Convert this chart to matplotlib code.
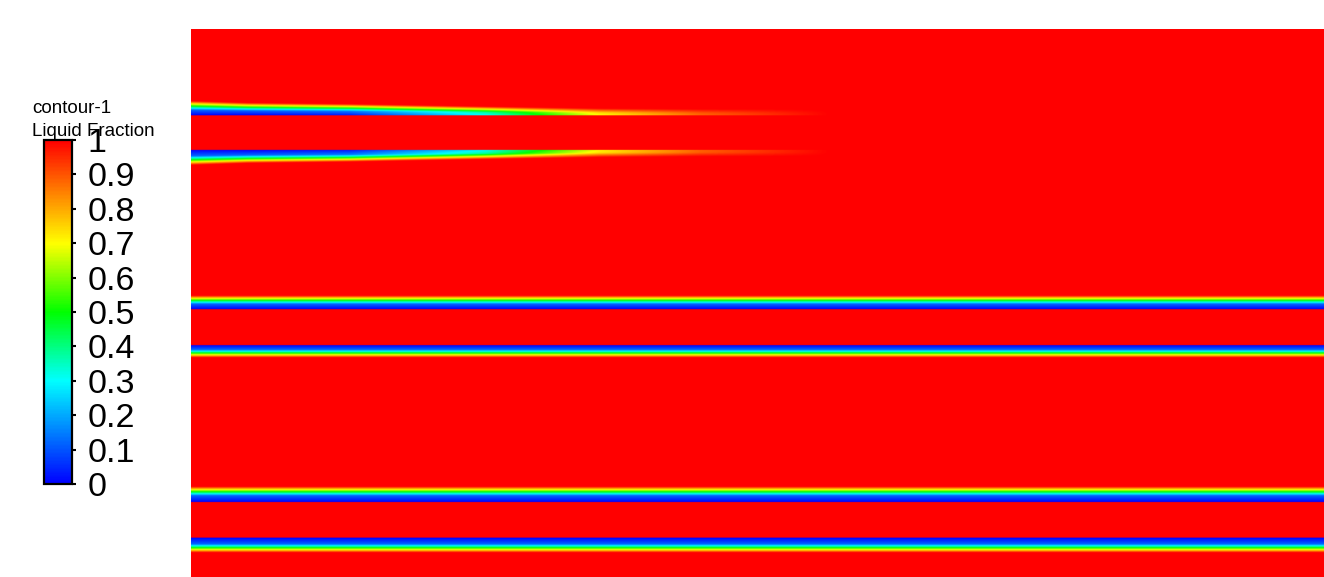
import numpy as np
import matplotlib
matplotlib.use("Agg")
import matplotlib.pyplot as plt
from matplotlib.colors import LinearSegmentedColormap, Normalize
from matplotlib.colorbar import ColorbarBase

# domain size (mm)
dom_w = 40.0
dom_h = 19.35

# liquid-fraction bands: sharp (blue) edge position, side the ramp grows to,
# blue core width and ramp width (all mm)
band_edge = [16.31, 15.08, 9.46, 8.19, 2.65, 1.38]
band_side = [1, -1, 1, -1, 1, -1]
band_core = [0.16, 0.18, 0.18, 0.16, 0.22, 0.22]
band_ramp = [0.28, 0.28, 0.30, 0.28, 0.32, 0.30]
band_fades = [True, True, False, False, False, False]

# fading of the two upper bands along x
fade_x = [0.0, 2.0, 5.6, 10.4, 14.4, 18.0, 22.6, 40.0]
fade_vmin = [0.0, 0.0, 0.03, 0.3, 0.7, 0.88, 1.0, 1.0]
fade_scale = [1.15, 1.0, 0.9, 0.7, 0.55, 0.5, 0.5, 0.5]

levels = [0, 0.1, 0.2, 0.3, 0.4, 0.5, 0.6, 0.7, 0.8, 0.9, 1.0]
level_labels = ["0", "0.1", "0.2", "0.3", "0.4", "0.5", "0.6", "0.7", "0.8", "0.9", "1"]

cmap = LinearSegmentedColormap.from_list(
    "fluent",
    [(0.0, (0, 0, 1)), (0.3, (0, 1, 1)), (0.5, (0, 1, 0)),
     (0.7, (1, 1, 0)), (1.0, (1, 0, 0))])

# build field
x = np.linspace(0, dom_w, 1200)
y = np.linspace(0, dom_h, 1600)
X, Y = np.meshgrid(x, y)
field = np.ones_like(X)
for edge, side, core, ramp, fades in zip(band_edge, band_side, band_core,
                                         band_ramp, band_fades):
    if fades:
        vmin = np.interp(x, fade_x, fade_vmin)
        sc = np.interp(x, fade_x, fade_scale)
    else:
        vmin = np.zeros_like(x)
        sc = np.ones_like(x)
    s = (Y - edge) * side
    c = core * sc
    r = ramp * sc
    t1 = np.clip(s / c, 0, 1)
    t2 = np.clip((s - c) / r, 0, 1)
    vb = np.where(s < c, vmin + 0.12 * (1 - vmin) * t1,
                  vmin + 0.12 * (1 - vmin) + 0.88 * (1 - vmin) * t2)
    v = np.where(s >= 0, vb, 1.0)
    field = np.minimum(field, v)

fig = plt.figure(figsize=(13.24, 5.77), dpi=100)
ax = fig.add_axes([191 / 1324, 0, 1133 / 1324, 548 / 577])
ax.imshow(field, origin="lower", extent=[0, dom_w, 0, dom_h], cmap=cmap,
          vmin=0, vmax=1, aspect="auto", interpolation="bilinear")
ax.set_axis_off()

cax = fig.add_axes([44 / 1324, 93 / 577, 28 / 1324, 344 / 577])
cb = ColorbarBase(cax, cmap=cmap, norm=Normalize(0, 1), orientation="vertical")
cb.set_ticks(levels)
cb.set_ticklabels(level_labels)
cb.outline.set_linewidth(1.6)
cax.tick_params(axis="y", length=3, width=1.5, pad=8, labelsize=24.5)
for lab in cax.get_yticklabels():
    lab.set_fontfamily("Liberation Sans")

fig.text(32 / 1324, 1 - 113 / 577, "contour-1", fontsize=13.5,
         family="Liberation Sans", va="baseline")
fig.text(32 / 1324, 1 - 136 / 577, "Liquid Fraction", fontsize=13.5,
         family="Liberation Sans", va="baseline")

fig.savefig("out.png", dpi=100)
